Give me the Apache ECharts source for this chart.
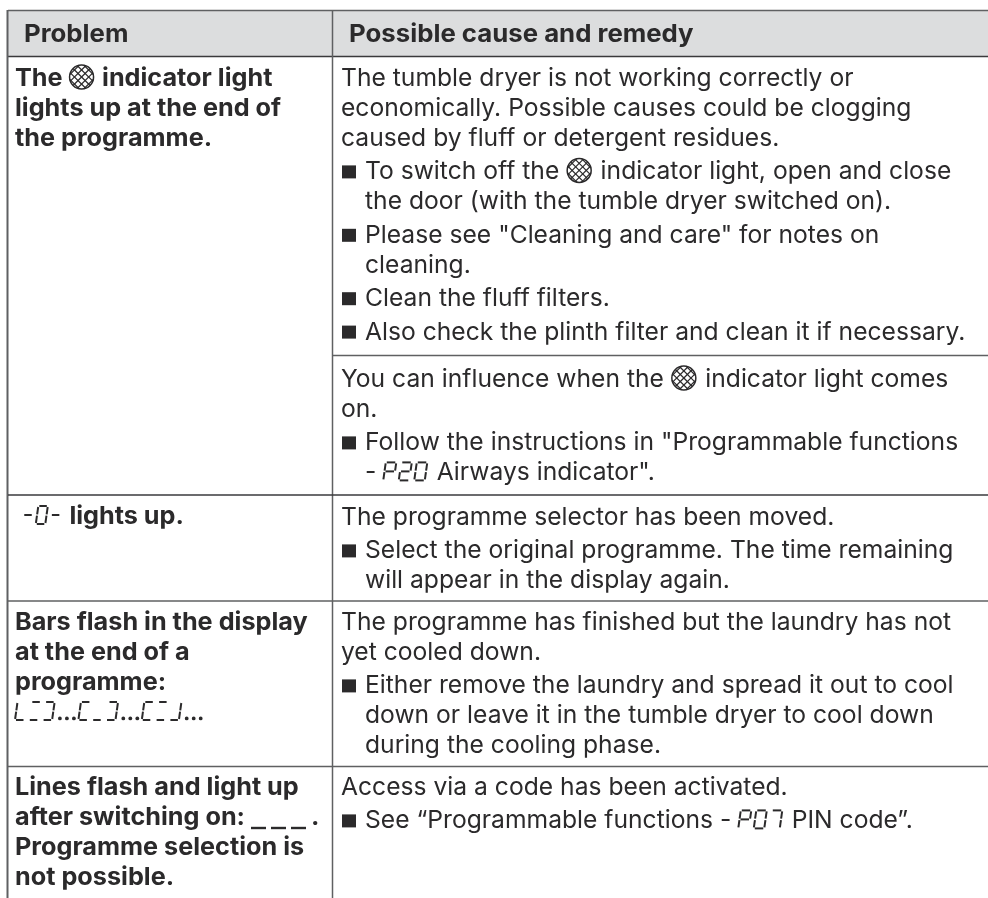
<!DOCTYPE html>
<html>
<head>
<meta charset="utf-8">
<title>Problem table</title>
<script src="https://cdn.jsdelivr.net/npm/echarts@6/dist/echarts.min.js"></script>
<style>
html, body { margin: 0; padding: 0; background: #fff; }
#chart { width: 988px; height: 898px; }
</style>
</head>
<body>
<div id="chart"></div>
<script>
// table text, {icon} = hatched lamp symbol, {seg:..} = seven segment display text,
// {dash:n} = display dashes, {dots} = three display dots
const headers = ['Problem', 'Possible cause and remedy']
const problems = [
  ['The {icon} indicator light', 'lights up at the end of', 'the programme.'],
  ['{seg:-0-} lights up.'],
  ['Bars flash in the display', 'at the end of a', 'programme:', '{seg:L=]}{dots}{seg:[_]}{dots}{seg:[=J}{dots}'],
  ['Lines flash and light up', 'after switching on: {dash:3}.', 'Programme selection is', 'not possible.']
]
const remedies = [
  [
    ['The tumble dryer is not working correctly or', 'economically. Possible causes could be clogging', 'caused by fluff or detergent residues.'],
    ['*To switch off the {icon} indicator light, open and close', 'the door (with the tumble dryer switched on).'],
    ['*Please see "Cleaning and care" for notes on', 'cleaning.'],
    ['*Clean the fluff filters.'],
    ['*Also check the plinth filter and clean it if necessary.']
  ],
  [
    ['You can influence when the {icon} indicator light comes', 'on.'],
    ['*Follow the instructions in "Programmable functions', '- {seg:P20} Airways indicator".']
  ],
  [
    ['The programme selector has been moved.'],
    ['*Select the original programme. The time remaining', 'will appear in the display again.']
  ],
  [
    ['The programme has finished but the laundry has not', 'yet cooled down.'],
    ['*Either remove the laundry and spread it out to cool', 'down or leave it in the tumble dryer to cool down', 'during the cooling phase.']
  ],
  [
    ['Access via a code has been activated.'],
    ['*See \u201cProgrammable functions - {seg:P07} PIN code\u201d.']
  ]
]

// layout
const leftX = 15
const rightX = 341
const bulletTextX = 365
const colLine = 332.5
const lineStep = 30
const paraGap = 3.4
const problemTops = [86, 524, 630, 795]
const remedyTops = [86, 387, 525, 630, 795]
const rowLines = [601, 766.5]
const subLines = [355.5, 495]
const fontName = 'Inter'
const fontSize = 24.5
const regularScale = 1.006
const boldScale = 1.03
const headerScale = 1.052
const inkColor = '#2b2a2b'
const ruleColor = '#5f6062'

const segmentMap = {
  '-': 'g', '0': 'abcdef', '2': 'abged', '7': 'abc', 'P': 'abefg',
  'L': 'def', '=': 'ad', ']': 'abcd', '_': 'd', '[': 'adef', 'J': 'bcd'
}

const measureCtx = document.createElement('canvas').getContext('2d')

function fontOf (bold) {
  return (bold ? '700 ' : '400 ') + fontSize + 'px ' + fontName
}

function baselineOffset (bold) {
  measureCtx.font = fontOf(bold)
  measureCtx.textBaseline = 'middle'
  return measureCtx.measureText('H').actualBoundingBoxDescent
}

function textEl (str, x, base, bold, scale) {
  return {
    type: 'text',
    x: x,
    y: base - baselineOffset(bold),
    scaleX: scale,
    style: { text: str, font: fontOf(bold), fill: inkColor, verticalAlign: 'middle' }
  }
}

function lineEl (x1, y1, x2, y2, color, width) {
  return {
    type: 'line',
    shape: { x1: x1, y1: y1, x2: x2, y2: y2 },
    style: { stroke: color, lineWidth: width, lineCap: 'butt' }
  }
}

function iconEls (x, base) {
  const r = 12
  const cx = x + r + 1
  const cy = base - 9
  const out = [{ type: 'circle', shape: { cx: cx, cy: cy, r: r }, style: { fill: '#fff', stroke: inkColor, lineWidth: 1.5 } }]
  for (let d = -10; d <= 10; d += 5) {
    const half = Math.sqrt(r * r - d * d)
    const k = Math.SQRT1_2
    // two hatch directions
    out.push(lineEl(cx + (d - half) * k, cy + (d + half) * k, cx + (d + half) * k, cy + (d - half) * k, inkColor, 1.2))
    out.push(lineEl(cx + (d - half) * k, cy - (d + half) * k, cx + (d + half) * k, cy - (d - half) * k, inkColor, 1.2))
  }
  return out
}

function segEls (chars, x, base, bold) {
  const out = []
  const w = bold ? 9.5 : 10.5
  const h = 18
  const adv = bold ? 13.8 : 15.5
  const skew = 0.14
  Array.from(chars).forEach(function (c, i) {
    const x0 = x + i * adv
    const pt = function (px, py) { return [x0 + px + (h - py) * skew, base - h + py] }
    const seg = {
      a: [[1, 0], [w - 1, 0]],
      b: [[w, 1], [w, h / 2 - 0.7]],
      c: [[w, h / 2 + 0.7], [w, h - 1]],
      d: [[1, h], [w - 1, h]],
      e: [[0, h / 2 + 0.7], [0, h - 1]],
      f: [[0, 1], [0, h / 2 - 0.7]],
      g: [[1, h / 2], [w - 1, h / 2]]
    }
    Array.from(segmentMap[c] || '').forEach(function (name) {
      const a = pt(seg[name][0][0], seg[name][0][1])
      const b = pt(seg[name][1][0], seg[name][1][1])
      out.push(lineEl(a[0], a[1], b[0], b[1], inkColor, 2))
    })
  })
  return { els: out, width: chars.length * adv }
}

function dashEls (count, x, base) {
  const out = []
  for (let i = 0; i < count; i++) {
    out.push(lineEl(x + i * 20, base + 3, x + i * 20 + 15, base + 3, inkColor, 2.4))
  }
  return { els: out, width: count * 20 }
}

function dotEls (x, base) {
  const out = []
  for (let i = 0; i < 3; i++) {
    out.push({ type: 'circle', shape: { cx: x + 3.5 + i * 7, cy: base - 1.6, r: 1.9 }, style: { fill: inkColor } })
  }
  return { els: out, width: 22 }
}

function drawLine (str, x, base, bold, out, scaleOverride) {
  const scale = scaleOverride || (bold ? boldScale : regularScale)
  measureCtx.font = fontOf(bold)
  let cur = x
  const place = function (piece) {
    piece.els.forEach(function (e) { out.push(e) })
    cur += piece.width
  }
  str.split(/(\{icon\}|\{dots\}|\{seg:[^}]*\}|\{dash:[^}]*\})/).forEach(function (part) {
    if (part === '') return
    if (part === '{icon}') {
      place({ els: iconEls(cur, base), width: 27.5 })
    } else if (part === '{dots}') {
      place(dotEls(cur, base))
    } else if (part.indexOf('{seg:') === 0) {
      place(segEls(part.slice(5, -1), cur, base, bold))
    } else if (part.indexOf('{dash:') === 0) {
      place(dashEls(Number(part.slice(6, -1)), cur, base))
    } else {
      out.push(textEl(part, cur, base, bold, scale))
      cur += measureCtx.measureText(part).width * scale
    }
  })
}

function drawRemedy (paras, top, out) {
  let base = top
  paras.forEach(function (para, p) {
    if (p > 0) base += paraGap
    para.forEach(function (line) {
      let x = rightX
      let str = line
      if (line[0] === '*') {
        out.push({ type: 'rect', shape: { x: rightX + 1, y: base - 14, width: 14, height: 13 }, style: { fill: inkColor } })
        str = line.slice(1)
        x = bulletTextX
      } else if (para[0][0] === '*') {
        x = bulletTextX
      }
      drawLine(str, x, base, false, out)
      base += lineStep
    })
  })
}

const elements = []
elements.push({ type: 'rect', shape: { x: 8, y: 10, width: 980, height: 46 }, style: { fill: '#dcddde' } })
elements.push(lineEl(8, 10.5, 988, 10.5, ruleColor, 1.5))
elements.push(lineEl(8, 56.5, 988, 56.5, '#3a3a3c', 1.5))
elements.push(lineEl(7.5, 10, 7.5, 898, ruleColor, 2))
elements.push(lineEl(colLine, 10, colLine, 898, ruleColor, 1.5))
rowLines.forEach(function (y) { elements.push(lineEl(8, y, 988, y, ruleColor, 1.5)) })
subLines.forEach(function (y, i) {
  elements.push(lineEl(i === 1 ? 8 : colLine, y, 988, y, i === 1 ? '#3a3a3c' : ruleColor, 1.4))
})

drawLine(headers[0], 24, 42, true, elements, headerScale)
drawLine(headers[1], 349, 42, true, elements, headerScale)
problems.forEach(function (lines, i) {
  lines.forEach(function (line, j) {
    drawLine(line, i === 1 ? 22 : leftX, problemTops[i] + j * lineStep, true, elements)
  })
})
remedies.forEach(function (paras, i) {
  drawRemedy(paras, remedyTops[i], elements)
})

const myChart = echarts.init(document.getElementById('chart'), null, { renderer: 'canvas' })
myChart.setOption({
  backgroundColor: '#fff',
  animation: false,
  graphic: { elements: elements.map(function (e) { return Object.assign({ silent: true }, e) }) }
})
</script>
</body>
</html>
